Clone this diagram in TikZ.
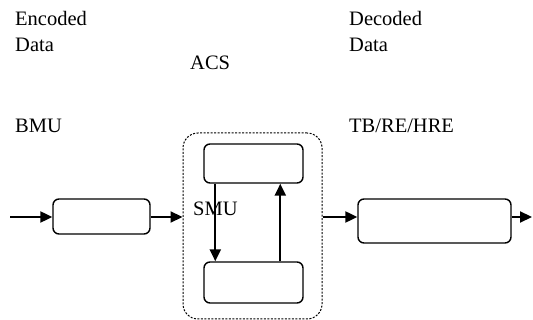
\documentclass[tikz,border=0pt]{standalone}
\usepackage{fontspec}
\setmainfont{Liberation Serif}
\usetikzlibrary{arrows.meta,calc}
\begin{document}
\begin{tikzpicture}[x=1pt,y=-1pt,
  box/.style={draw,line width=1.4pt,rounded corners=6pt,inner sep=0pt},
  grp/.style={draw,dash pattern=on 2pt off 1.5pt,line width=1pt,rounded corners=15pt,inner sep=0pt},
  arr/.style={line width=2.2pt,-{Triangle[length=12pt,width=11pt]}},
  lbl/.style={anchor=base west,inner sep=0pt,font=\fontsize{20.5}{26}\selectfont}]
\useasboundingbox (0,0) rectangle (533,320);
\node[lbl] (enc1) at (15,25.7) {Encoded};
\node[lbl] (enc2) at (15,51.7) {Data};
\node[lbl] (acsl) at (190,70) {ACS};
\node[lbl] (dec1) at (349,25.7) {Decoded};
\node[lbl] (dec2) at (349,51.7) {Data};
\node[lbl] (bmul) at (15,133) {BMU};
\node[lbl] (tbl) at (349,133) {TB/RE/HRE};
\node[box,minimum width=97pt,minimum height=35pt] (bmu) at (101.5,216.5) {};
\node[grp,minimum width=139pt,minimum height=186pt] (acs) at (252.5,226) {};
\node[box,minimum width=99pt,minimum height=39pt] (top) at (253.5,163.5) {};
\node[box,minimum width=99pt,minimum height=41pt] (bot) at (253.5,282.5) {};
\node[box,minimum width=153pt,minimum height=44pt] (tb) at (434.5,221) {};
\node[lbl] (smul) at (193,216) {SMU};
\coordinate (in) at (10,217);
\coordinate (out) at (532,217);
\draw[arr] (in) -- (in -| bmu.west);
\draw[arr] (in -| bmu.east) -- (in -| acs.west);
\draw[arr] (in -| acs.east) -- (in -| tb.west);
\draw[arr] (in -| tb.east) -- (out);
\draw[arr] ([xshift=12pt]top.south west) -- ([xshift=12pt]bot.north west);
\draw[arr] ([xshift=77pt]bot.north west) -- ([xshift=77pt]top.south west);
\end{tikzpicture}
\end{document}
